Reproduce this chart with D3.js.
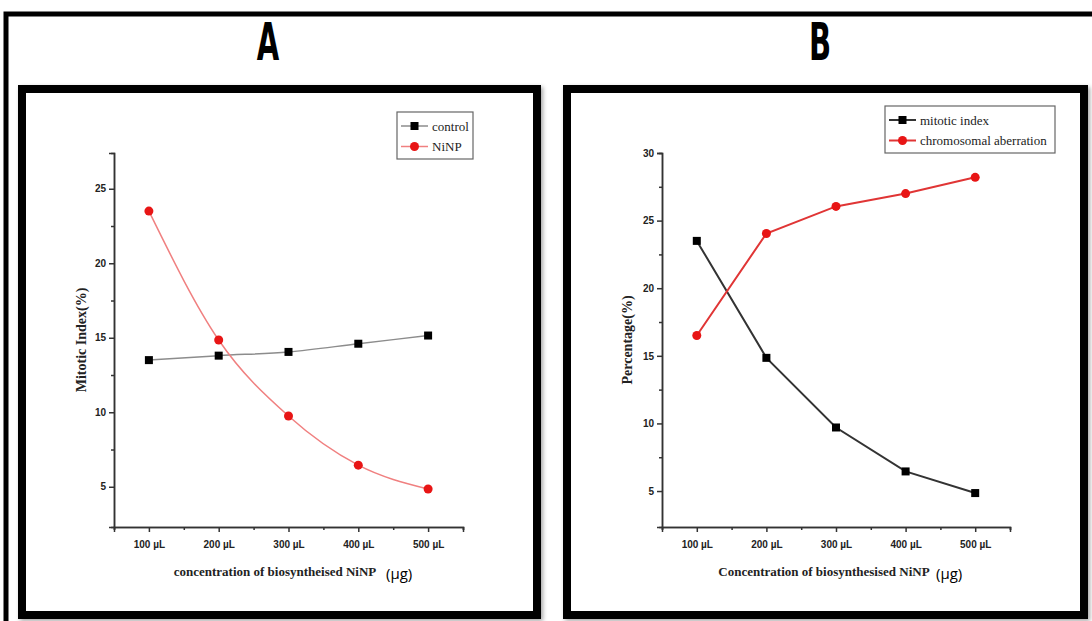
<!DOCTYPE html>
<html>
<head>
  <script src="https://d3js.org/d3.v7.min.js"></script>
  <style>
    body { margin: 0; background: #fff; }
    svg { display: block; }
    .tick_lbl { font-family: "Liberation Sans", Arial, sans-serif; font-weight: bold; font-size: 10px; fill: #222; }
    .ax_title { font-family: "Liberation Serif", "Times New Roman", serif; font-weight: bold; fill: #222; }
    .unit { font-family: "Open Sans", sans-serif; font-size: 15px; fill: #000; }
    .leg_txt { font-family: "Liberation Serif", "Times New Roman", serif; font-size: 13px; fill: #222; }
    .panel_lbl { font-family: "DejaVu Sans Condensed", "Liberation Sans Narrow", sans-serif; font-weight: bold; font-size: 52px; fill: #000; }
  </style>
</head>
<body>
<script type="text/javascript">
  // data
  var concentrations = [100, 200, 300, 400, 500];
  var xTickLabels = ["100 µL", "200 µL", "300 µL", "400 µL", "500 µL"];

  // panel A
  var controlA = [13.5, 13.8, 14.05, 14.6, 15.15];
  var ninpA = [23.5, 14.85, 9.75, 6.45, 4.85];
  var yTicksA = [5, 10, 15, 20, 25];

  // panel B
  var mitoticB = [23.5, 14.85, 9.7, 6.45, 4.85];
  var aberrationB = [16.5, 24.05, 26.05, 27.0, 28.2];
  var yTicksB = [5, 10, 15, 20, 25, 30];

  var svg = d3.select("body").append("svg")
      .attr("width", 1092)
      .attr("height", 621);

  var defs = svg.append("defs");
  defs.append("filter").attr("id", "shadow")
      .attr("x", "-5%").attr("y", "-5%").attr("width", "110%").attr("height", "110%")
    .append("feDropShadow")
      .attr("dx", 2).attr("dy", 2).attr("stdDeviation", 2)
      .attr("flood-color", "#000").attr("flood-opacity", 0.35);

  // outer frame (runs off the right/bottom edge)
  svg.append("rect")
      .attr("x", 6).attr("y", 14)
      .attr("width", 1100).attr("height", 640)
      .attr("fill", "none").attr("stroke", "#000").attr("stroke-width", 5);

  // panel letters, squeezed to look condensed
  [["A", 268], ["B", 820]].forEach(function(p) {
    svg.append("text").attr("class", "panel_lbl")
        .attr("transform", "translate(" + p[1] + ",60) scale(0.62,1)")
        .attr("text-anchor", "middle")
        .text(p[0]);
  });

  // panel boxes
  [[22, 89, 515, 526], [567, 89, 517, 526]].forEach(function(b) {
    svg.append("rect")
        .attr("x", b[0]).attr("y", b[1])
        .attr("width", b[2]).attr("height", b[3])
        .attr("fill", "#fff").attr("stroke", "#000").attr("stroke-width", 8)
        .attr("filter", "url(#shadow)");
  });

  function draw_panel(cfg) {
    "use strict";
    var g = svg.append("g");

    var x_scale = d3.scaleLinear()
        .domain([50, 550])
        .range([cfg.left, cfg.right]);

    var y_scale = d3.scaleLinear()
        .domain(cfg.yDomain)
        .range([527, 153]);

    // x axis: major ticks with labels, minor ticks between
    var x_major = d3.axisBottom(x_scale)
        .tickValues(concentrations)
        .tickSize(5)
        .tickFormat(function(d, i) { return xTickLabels[i]; });
    var x_minor = d3.axisBottom(x_scale)
        .tickValues([50, 150, 250, 350, 450, 550])
        .tickSize(3)
        .tickFormat("");

    var gx = g.append("g")
        .attr("transform", "translate(0," + 527 + ")")
        .call(x_major);
    g.append("g")
        .attr("transform", "translate(0," + 527 + ")")
        .call(x_minor);

    gx.selectAll("text").attr("class", "tick_lbl").attr("dy", "1.3em");

    // y axis
    var y_major = d3.axisLeft(y_scale)
        .tickValues(cfg.yTicks)
        .tickSize(5);
    var y_minor = d3.axisLeft(y_scale)
        .tickValues(cfg.yTicks.map(function(v) { return v + 2.5; })
            .filter(function(v) { return v < cfg.yDomain[1]; }))
        .tickSize(3)
        .tickFormat("");

    var gy = g.append("g")
        .attr("transform", "translate(" + cfg.left + ",0)")
        .call(y_major);
    g.append("g")
        .attr("transform", "translate(" + cfg.left + ",0)")
        .call(y_minor);

    gy.selectAll("text").attr("class", "tick_lbl").attr("x", -8);

    g.selectAll(".domain, .tick line")
        .attr("stroke", "#333").attr("stroke-width", 1.5);

    // axis titles
    g.append("text").attr("class", "ax_title")
        .attr("transform", "translate(" + cfg.yTitleX + ",340) rotate(-90)")
        .attr("text-anchor", "middle")
        .style("font-size", "14px")
        .text(cfg.yTitle);

    g.append("text").attr("class", "ax_title")
        .attr("x", cfg.xTitleX).attr("y", 576)
        .attr("text-anchor", "middle")
        .style("font-size", "13px")
        .text(cfg.xTitle);

    g.append("text").attr("class", "unit")
        .attr("x", cfg.unitX).attr("y", 579)
        .text("(µg)");

    // series
    cfg.series.forEach(function(s) {
      var line = d3.line()
          .curve(cfg.curve)
          .x(function(d, i) { return x_scale(concentrations[i]); })
          .y(function(d) { return y_scale(d); });

      g.append("path")
          .attr("d", line(s.values))
          .attr("fill", "none")
          .attr("stroke", s.lineColor)
          .attr("stroke-width", cfg.lineWidth);

      if (s.marker === "square") {
        g.selectAll(null).data(s.values).enter().append("rect")
            .attr("x", function(d, i) { return x_scale(concentrations[i]) - 4; })
            .attr("y", function(d) { return y_scale(d) - 4; })
            .attr("width", 8).attr("height", 8)
            .attr("fill", s.markColor);
      } else {
        g.selectAll(null).data(s.values).enter().append("circle")
            .attr("cx", function(d, i) { return x_scale(concentrations[i]); })
            .attr("cy", function(d) { return y_scale(d); })
            .attr("r", 4.5)
            .attr("fill", s.markColor);
      }
    });

    // legend
    var lg = cfg.legend;
    g.append("rect")
        .attr("x", lg.x).attr("y", lg.y)
        .attr("width", lg.w).attr("height", lg.h)
        .attr("fill", "#fff").attr("stroke", "#666").attr("stroke-width", 1.2);

    cfg.series.forEach(function(s, i) {
      var yy = lg.y + 14 + i * 20.5;
      g.append("line")
          .attr("x1", lg.x + 4).attr("x2", lg.x + 31)
          .attr("y1", yy).attr("y2", yy)
          .attr("stroke", s.lineColor).attr("stroke-width", cfg.lineWidth);
      if (s.marker === "square") {
        g.append("rect")
            .attr("x", lg.x + 13.5).attr("y", yy - 4)
            .attr("width", 8).attr("height", 8)
            .attr("fill", s.markColor);
      } else {
        g.append("circle")
            .attr("cx", lg.x + 17.5).attr("cy", yy).attr("r", 4.5)
            .attr("fill", s.markColor);
      }
      g.append("text").attr("class", "leg_txt")
          .attr("x", lg.x + 35).attr("y", yy + 4.5)
          .text(s.name);
    });
  }

  draw_panel({
    left: 114, right: 463,
    yDomain: [2.3, 27.4],
    yTicks: yTicksA,
    yTitle: "Mitotic Index(%)", yTitleX: 86,
    xTitle: "concentration of biosyntheised NiNP", xTitleX: 275, unitX: 386,
    curve: d3.curveMonotoneX,
    lineWidth: 1.5,
    legend: {x: 397, y: 112, w: 76, h: 47},
    series: [
      {name: "control", values: controlA, lineColor: "#8c8c8c", markColor: "#000", marker: "square"},
      {name: "NiNP", values: ninpA, lineColor: "#f08080", markColor: "#e81515", marker: "circle"}
    ]
  });

  draw_panel({
    left: 662, right: 1010,
    yDomain: [2.34, 30],
    yTicks: yTicksB,
    yTitle: "Percentage(%)", yTitleX: 632,
    xTitle: "Concentration of biosynthesised NiNP", xTitleX: 824, unitX: 936,
    curve: d3.curveLinear,
    lineWidth: 2,
    legend: {x: 885, y: 106, w: 170, h: 47},
    series: [
      {name: "mitotic index", values: mitoticB, lineColor: "#333", markColor: "#000", marker: "square"},
      {name: "chromosomal aberration", values: aberrationB, lineColor: "#e03535", markColor: "#e81515", marker: "circle"}
    ]
  });
</script>
</body>
</html>
